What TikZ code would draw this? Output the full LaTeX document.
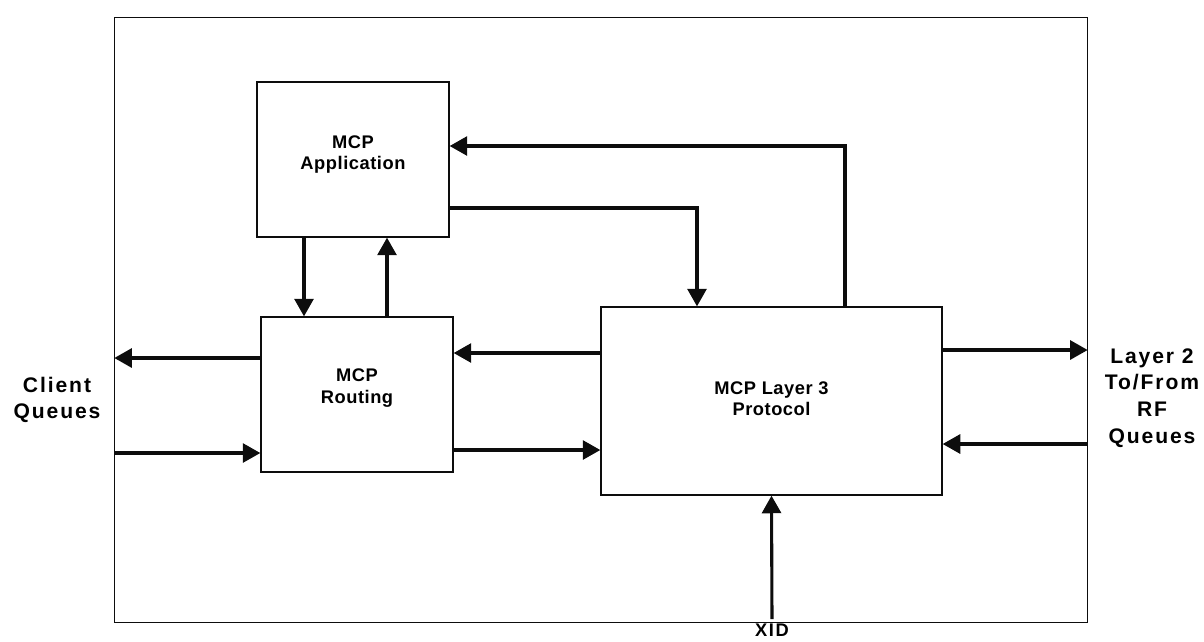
\documentclass[tikz,border=0pt]{standalone}
\usepackage{fontspec}
\setmainfont{Liberation Sans}
\newfontfamily\boxfont[LetterSpace=3]{Liberation Sans}
\newfontfamily\sidefont[LetterSpace=9]{Liberation Sans}
\usetikzlibrary{positioning,arrows.meta,calc}
\definecolor{ink}{gray}{0.05}
\tikzset{
  box/.style={draw=ink, line width=0.9pt, fill=white, align=center, inner sep=0pt,
              font=\boxfont\bfseries\fontsize{13}{15}\selectfont},
  outer/.style={draw=ink, line width=0.8pt, inner sep=0pt},
  flow/.style={-{Triangle[length=12.5pt,width=13.5pt]}, draw=ink, line width=2.2pt},
  side/.style={align=center, inner sep=2pt, font=\sidefont\bfseries\fontsize{15}{19}\selectfont},
}

\begin{document}
\begin{tikzpicture}[x=0.025cm, y=-0.025cm]
  \useasboundingbox (0,0) rectangle (1204,641);
  \node[outer, minimum width=24.3cm, minimum height=15.1cm] (fr) at (601,320) {};
  \node[box, minimum width=4.8cm, minimum height=3.875cm, text depth=10pt] (app) at (353,159.5) {MCP\\Application};
  \node[box, minimum width=4.8cm, minimum height=3.875cm, text depth=12pt] (rout) at (357,394.5) {MCP\\Routing};
  \node[box, minimum width=8.525cm, minimum height=4.7cm, text depth=3pt] (l3) at (771.5,401) {MCP Layer 3\\Protocol};
  \node[side] (client) at (57,400) {Client\\Queues};
  \node[side] (rfq) at (1152,398) {Layer 2\\To/From\\RF\\Queues};
  \node[side, inner sep=1pt, font=\sidefont\bfseries\fontsize{13}{16}\selectfont] (xid) at (772,630) {XID};

  % application <-> routing
  \coordinate (d1) at ($(app.south)+(-49,0)$);
  \coordinate (u1) at ($(rout.north)+(30,0)$);
  \draw[flow] (d1) -- (d1 |- rout.north);
  \draw[flow] (u1) -- (u1 |- app.south);

  % application <-> layer 3
  \coordinate (a1) at ($(app.east)+(0,-13.5)$);
  \coordinate (l1) at ($(l3.north)+(73.5,0)$);
  \coordinate (a2) at ($(app.east)+(0,48.5)$);
  \coordinate (l2) at ($(l3.north)+(-74.5,0)$);
  \draw[flow] (l1) |- (a1);
  \draw[flow] (a2) -| (l2);

  % client queues
  \coordinate (r1) at ($(rout.west)+(0,-36.5)$);
  \coordinate (r2) at ($(rout.west)+(0,58.5)$);
  \draw[flow] (r1) -- (r1 -| fr.west);
  \draw[flow] (r2 -| fr.west) -- (r2);

  % routing <-> layer 3
  \coordinate (r3) at ($(rout.east)+(0,-41.5)$);
  \coordinate (r4) at ($(rout.east)+(0,55.5)$);
  \draw[flow] (r3 -| l3.west) -- (r3);
  \draw[flow] (r4) -- (r4 -| l3.west);

  % layer 2 queues
  \coordinate (l5) at ($(l3.east)+(0,-51)$);
  \coordinate (l6) at ($(l3.east)+(0,43)$);
  \draw[flow] (l5) -- (l5 -| fr.east);
  \draw[flow] (l6 -| fr.east) -- (l6);

  \draw[flow] ($(xid.north)+(0,-3)$) -- (l3.south);
\end{tikzpicture}
\end{document}
